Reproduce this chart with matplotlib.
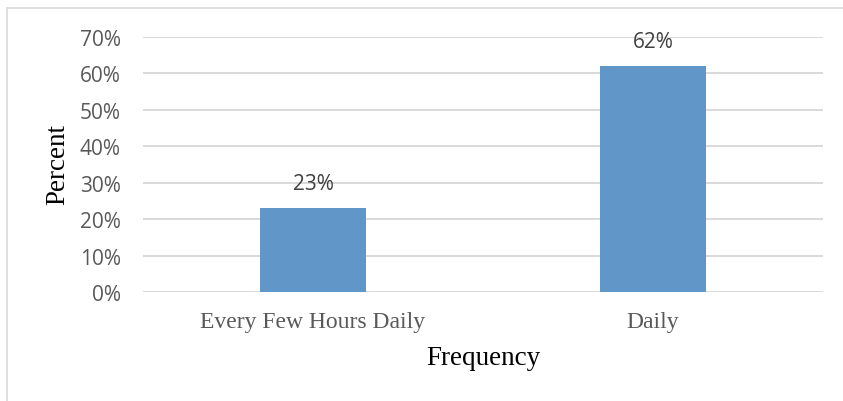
import matplotlib.pyplot as plt
from matplotlib.patches import Rectangle
import numpy as np

categories = ['Every Few Hours Daily', 'Daily']
percent = [23, 62]
yticks = [0, 10, 20, 30, 40, 50, 60, 70]

fig = plt.figure(figsize=(8.43, 4.02), dpi=100)
# chart frame, only top and left edges show
fig.add_artist(Rectangle((7/843, -0.1), 1.2, 1 - 9/402 + 0.1, transform=fig.transFigure,
                         fill=False, edgecolor='#d9d9d9', linewidth=1.2))

ax = fig.add_axes([143/843, 1 - 293/402, 680/843, 255/402])
x = np.arange(len(categories))
ax.bar(x, percent, width=0.31, color='#6097c8', zorder=3)
for xi, v in zip(x, percent):
    ax.text(xi, v + 4.0, '{}%'.format(v), ha='center', va='bottom',
            fontsize=15, color='#404040', family='Open Sans')

ax.set_xlim(-0.5, 1.5)
ax.set_ylim(0, 70)
ax.set_yticks(yticks)
ax.set_yticklabels(['{}%'.format(t) for t in yticks], family='Open Sans', fontsize=15, color='#595959')
ax.set_xticks(x)
ax.set_xticklabels(categories, family='Liberation Serif', fontsize=17, color='#595959')
ax.tick_params(length=0)
ax.tick_params(axis='y', pad=16)
ax.tick_params(axis='x', pad=14)
ax.grid(axis='y', color='#d9d9d9', linewidth=1.4, zorder=0)
for s in ax.spines.values():
    s.set_visible(False)

ax.set_ylabel('Percent', family='Liberation Serif', fontsize=19.5, color='black')
ax.set_xlabel('Frequency', family='Liberation Serif', fontsize=19.5, color='black')
ax.yaxis.set_label_coords((58 - 143) / 680, (293 - 165) / 255)
ax.xaxis.set_label_coords((483 - 143) / 680, -(359 - 293) / 255)
ax.xaxis.label.set_va('center')
ax.yaxis.label.set_va('center')

fig.savefig('out.png', dpi=100)
